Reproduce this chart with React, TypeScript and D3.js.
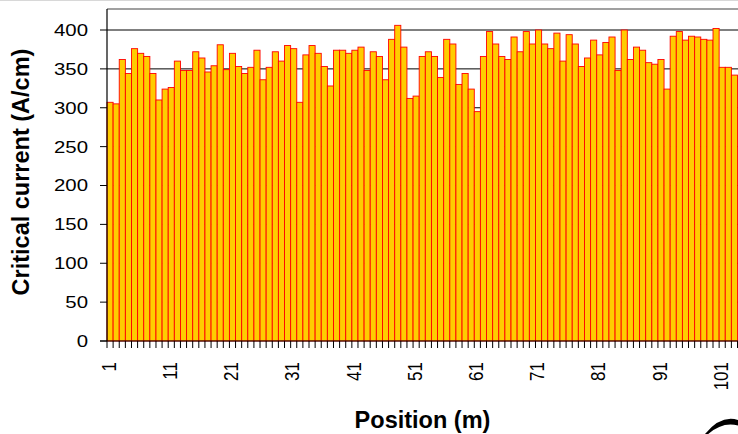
import React from "react";
import * as d3 from "d3";

const positions: number[] = Array.from({ length: 103 }, (_, i) => i + 1);
const currents: number[] = [
  307, 305, 362, 344, 376, 370, 366, 344, 310, 324,
  326, 360, 348, 348, 372, 364, 346, 354, 381, 349,
  370, 353, 344, 352, 374, 336, 352, 372, 360, 380,
  376, 307, 368, 380, 370, 353, 328, 374, 374, 370,
  374, 378, 348, 372, 366, 336, 388, 406, 378, 312,
  315, 366, 372, 366, 339, 388, 382, 330, 344, 324,
  295, 366, 398, 382, 366, 362, 391, 372, 398, 382,
  400, 382, 376, 396, 360, 394, 382, 353, 364, 387,
  368, 384, 391, 348, 400, 362, 378, 374, 358, 356,
  362, 324, 392, 398, 387, 392, 391, 388, 387, 402,
  352, 352, 342,
];
const yTicks: number[] = [0, 50, 100, 150, 200, 250, 300, 350, 400];
const xTickLabels: number[] = [1, 11, 21, 31, 41, 51, 61, 71, 81, 91, 101];
const yTitle = "Critical current (A/cm)";
const xTitle = "Position (m)";

const W = 738;
const H = 434;
const left = 107;
const right = 737.5;
const top = 9;
const bottom = 341;

export default function App() {
  const x = d3
    .scaleBand<number>()
    .domain(positions)
    .range([left, right])
    .padding(0);
  const y = d3.scaleLinear().domain([0, 400]).range([bottom, 30]);
  const bw = x.bandwidth();
  const font = "'Liberation Sans', Arial, sans-serif";

  return (
    <svg
      width={W}
      height={H}
      style={{ position: "absolute", left: 0, top: 0, background: "#fff" }}
      fontFamily={font}
    >
      <rect x={0} y={0} width={W} height={H} fill="#fff" />
      <line x1={0} x2={W} y1={0.5} y2={0.5} stroke="#d8d8d8" />
      {/* gridlines */}
      {yTicks
        .filter((t) => t > 0)
        .map((t) => (
          <line
            key={"g" + t}
            x1={left}
            x2={W}
            y1={y(t)}
            y2={y(t)}
            stroke="#000"
            strokeWidth={1}
          />
        ))}
      <line x1={left} x2={W} y1={top} y2={top} stroke="#808080" strokeWidth={1.5} />
      {/* bars */}
      {currents.map((v, i) => {
        const p = positions[i];
        const x0 = x(p)!;
        return (
          <rect
            key={"b" + p}
            x={x0}
            y={y(v)}
            width={bw}
            height={bottom - y(v)}
            fill="#FFCC00"
            stroke="#FF0000"
            strokeWidth={0.9}
          />
        );
      })}
      {/* axes */}
      <line x1={left} x2={left} y1={top} y2={bottom} stroke="#000" strokeWidth={1.2} />
      <line x1={100} x2={W} y1={bottom} y2={bottom} stroke="#000" strokeWidth={1.2} />
      {yTicks.map((t) => (
        <g key={"yt" + t}>
          <line x1={100} x2={left} y1={y(t)} y2={y(t)} stroke="#000" />
          <text
            transform={`translate(88,${y(t)}) scale(1.2,1)`}
            textAnchor="end"
            dy="0.35em"
            fontSize={17}
            fill="#000"
          >
            {t}
          </text>
        </g>
      ))}
      {positions.map((p) => (
        <line
          key={"xt" + p}
          x1={x(p)!}
          x2={x(p)!}
          y1={bottom}
          y2={bottom + 7}
          stroke="#000"
        />
      ))}
      <line x1={right} x2={right} y1={bottom} y2={bottom + 7} stroke="#000" />
      {xTickLabels.map((p) => (
        <text
          key={"xl" + p}
          transform={`translate(${x(p)! + bw / 2 - 1.5},362) scale(1.2,1) rotate(-90)`}
          textAnchor="end"
          dy="0.35em"
          fontSize={17}
          fill="#000"
        >
          {p}
        </text>
      ))}
      <text
        transform={`translate(28.5,172) rotate(-90)`}
        textAnchor="middle"
        fontSize={23.5}
        fontWeight="bold"
        fill="#000"
      >
        {yTitle}
      </text>
      <text
        x={422.5}
        y={428}
        textAnchor="middle"
        fontSize={23.5}
        fontWeight="bold"
        fill="#000"
      >
        {xTitle}
      </text>
      <path
        d="M705,434 Q725,410 746,424 L746,429 Q725,417 705,437 Z"
        fill="#000"
      />
    </svg>
  );
}
